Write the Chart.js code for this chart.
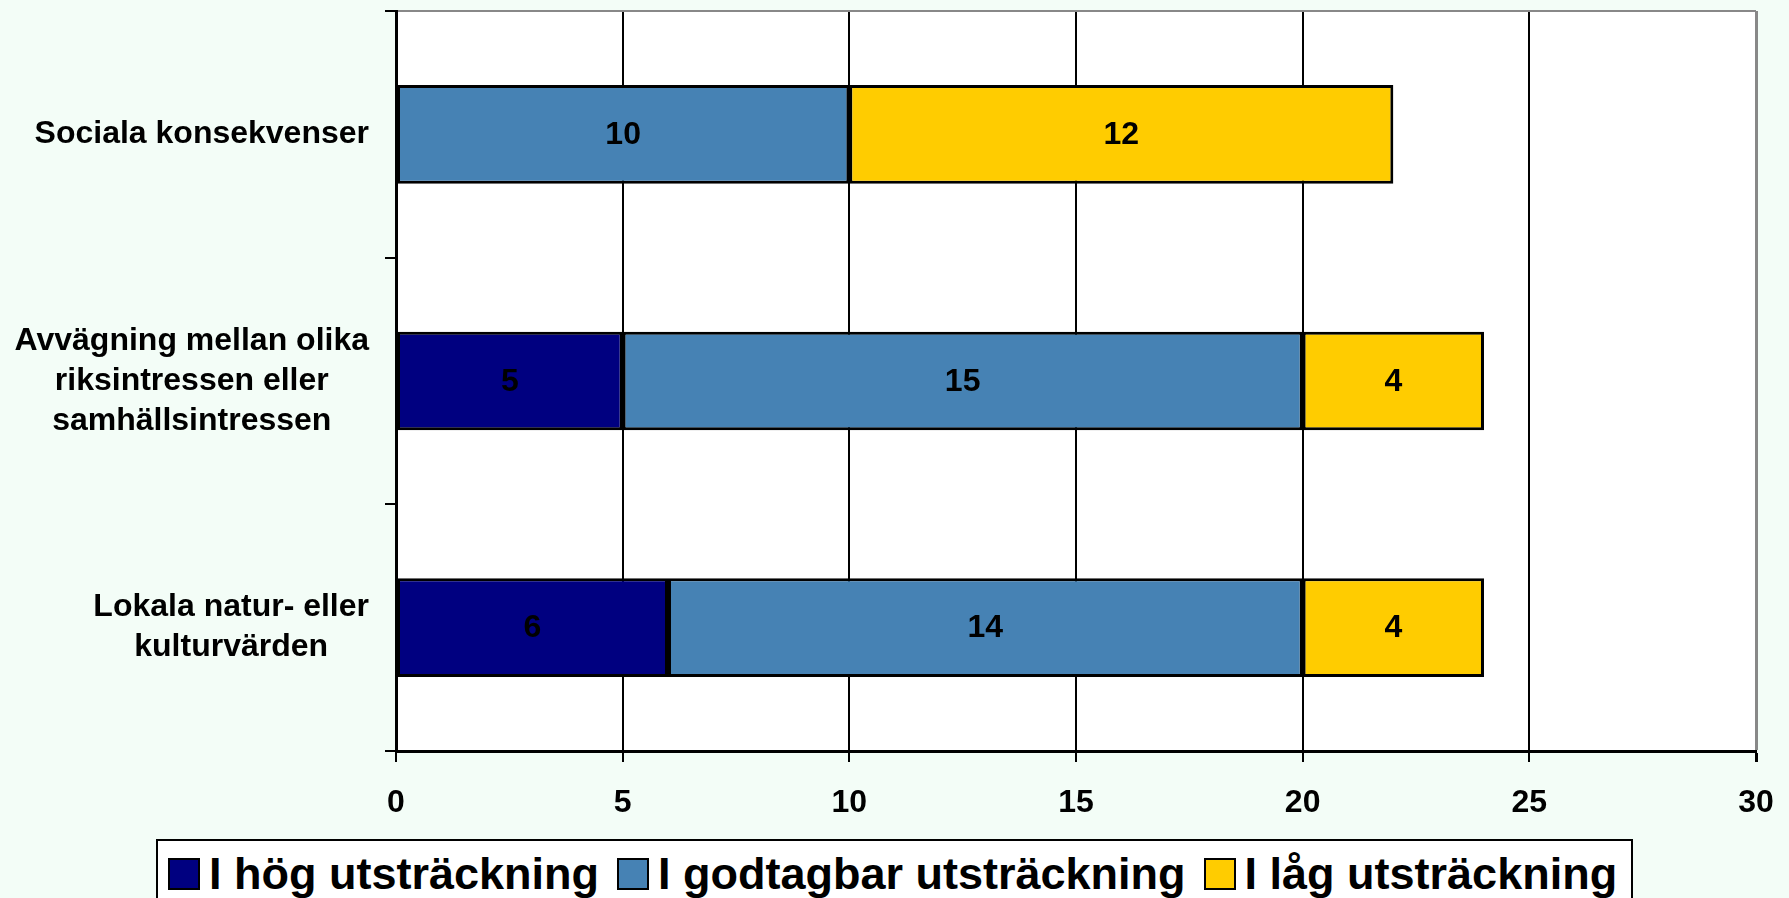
<!DOCTYPE html>
<html lang="sv">
<head>
<meta charset="utf-8">
<title>Utsträckning</title>
<script src="https://cdn.jsdelivr.net/npm/chart.js@4.4.1/dist/chart.umd.min.js"></script>
<style>
    html, body { margin: 0; padding: 0; background: #f3fdf7; overflow: hidden; }
    #wrap { position: relative; width: 1789px; height: 898px; }
    #chart { position: absolute; left: 0; top: 0; }
    #legend {
        position: absolute; left: 156px; top: 839px; width: 1477px; height: 90px;
        box-sizing: border-box; border: 2px solid #000; background: #fff;
        display: flex; align-items: flex-start;
        padding: 10px 0 0 10px;
        font-family: 'Liberation Sans', Arial, sans-serif; font-weight: bold; font-size: 45px;
    }
    .item { display: flex; align-items: center; height: 45px; line-height: 45px; margin-right: 18px; white-space: nowrap; }
    .swatch { width: 32px; height: 32px; box-sizing: border-box; border: 2px solid #000; margin-right: 9px; }
</style>
</head>
<body>
<div id="wrap">
    <canvas id="chart" width="1789" height="898"></canvas>
    <div id="legend"></div>
</div>
<script>
// --- Data ---
const categories = [
    ['Sociala konsekvenser'],
    ['Avvägning mellan olika', 'riksintressen eller', 'samhällsintressen'],
    ['Lokala natur- eller', 'kulturvärden']
];
const seriesNames = ['I hög utsträckning', 'I godtagbar utsträckning', 'I låg utsträckning'];
const hogValues = [null, 5, 6];
const godtagbarValues = [10, 15, 14];
const lagValues = [12, 4, 4];
const xMin = 0;
const xMax = 30;
const xStep = 5;

const colors = ['#000080', '#4682b4', '#ffcc00'];
const FONT = "'Liberation Sans', Arial, sans-serif";

Chart.defaults.font.family = FONT;
Chart.defaults.color = '#000';

// white plot area
const plotBackground = {
    id: 'plotBackground',
    beforeDraw(chart) {
        const { ctx, chartArea: a } = chart;
        ctx.save();
        ctx.fillStyle = '#fff';
        ctx.fillRect(a.left, a.top, a.right - a.left, a.bottom - a.top);
        ctx.restore();
    }
};

// category labels: block right aligned, lines centered inside
const categoryLabels = {
    id: 'categoryLabels',
    afterDraw(chart) {
        const { ctx } = chart;
        const yScale = chart.scales.y;
        const right = chart.chartArea.left - 27;
        const lineH = 40;
        ctx.save();
        ctx.font = 'bold 32px ' + FONT;
        ctx.fillStyle = '#000';
        ctx.textAlign = 'center';
        ctx.textBaseline = 'middle';
        categories.forEach((lines, i) => {
            const widest = Math.max(...lines.map(l => ctx.measureText(l).width));
            const cx = right - widest / 2;
            const cy = yScale.getPixelForValue(i);
            lines.forEach((line, j) => {
                ctx.fillText(line, cx, cy + (j - (lines.length - 1) / 2) * lineH);
            });
        });
        ctx.restore();
    }
};

// values inside the bar segments
const valueLabels = {
    id: 'valueLabels',
    afterDatasetsDraw(chart) {
        const { ctx } = chart;
        ctx.save();
        ctx.font = 'bold 32px ' + FONT;
        ctx.fillStyle = '#000';
        ctx.textAlign = 'center';
        ctx.textBaseline = 'middle';
        chart.data.datasets.forEach((ds, di) => {
            chart.getDatasetMeta(di).data.forEach((bar, i) => {
                const v = ds.data[i];
                if (v === null || v === 0) return;
                const p = bar.getCenterPoint();
                ctx.fillText(String(v), p.x, p.y + 1);
            });
        });
        ctx.restore();
    }
};

const datasets = [hogValues, godtagbarValues, lagValues].map((values, i) => ({
    label: seriesNames[i],
    data: values,
    backgroundColor: colors[i],
    borderColor: '#000',
    borderWidth: 3,
    borderSkipped: false,
    barPercentage: 0.4,
    categoryPercentage: 1
}));

new Chart(document.getElementById('chart'), {
    type: 'bar',
    data: { labels: categories, datasets },
    options: {
        indexAxis: 'y',
        responsive: false,
        animation: false,
        layout: { padding: { top: 11, right: 33, left: 0, bottom: 0 } },
        plugins: { legend: { display: false }, tooltip: { enabled: false } },
        scales: {
            x: {
                stacked: true,
                min: xMin,
                max: xMax,
                ticks: { stepSize: xStep, color: '#000', font: { size: 32, weight: 'bold' }, padding: 22 },
                grid: {
                    color: ctx => (ctx.tick && ctx.tick.value === xMax) ? '#888' : '#000',
                    lineWidth: ctx => (ctx.tick && ctx.tick.value === xMax) ? 3 : 2,
                    tickColor: '#000',
                    tickLength: 11
                },
                border: { color: '#000', width: 3 },
                afterFit: scale => {
                    scale.height = 898 - 751;
                    scale.paddingLeft = 0;
                    scale.paddingRight = 0;
                }
            },
            y: {
                stacked: true,
                ticks: { display: false },
                grid: {
                    offset: true,
                    color: ctx => ctx.index === 0 ? '#888' : 'rgba(0,0,0,0)',
                    tickColor: '#000',
                    lineWidth: 2,
                    tickLength: 11
                },
                border: { color: '#000', width: 3 },
                afterFit: scale => { scale.width = 396; }
            }
        }
    },
    plugins: [plotBackground, categoryLabels, valueLabels]
});

// legend
const legend = document.getElementById('legend');
seriesNames.forEach((name, i) => {
    const item = document.createElement('div');
    item.className = 'item';
    const sw = document.createElement('span');
    sw.className = 'swatch';
    sw.style.background = colors[i];
    const txt = document.createElement('span');
    txt.textContent = name;
    item.appendChild(sw);
    item.appendChild(txt);
    legend.appendChild(item);
});
</script>
</body>
</html>
